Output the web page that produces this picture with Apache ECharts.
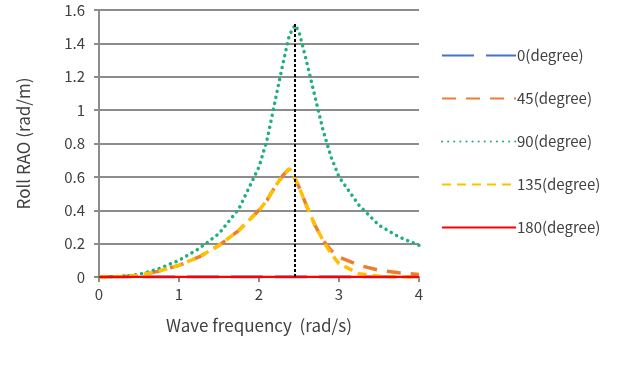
<!DOCTYPE html>
<html>
<head>
<meta charset="utf-8">
<script src="https://cdn.jsdelivr.net/npm/echarts@6/dist/echarts.min.js"></script>
<style>
  html, body { margin: 0; padding: 0; background: #fff; }
  #chart { width: 630px; height: 370px; }
</style>
</head>
<body>
<div id="chart"></div>
<script>
// wave frequency (rad/s)
var freq = [0, 0.25, 0.5, 0.75, 1.0, 1.25, 1.5, 1.75, 2.0, 2.1, 2.2, 2.3, 2.38, 2.45, 2.5, 2.6, 2.7, 2.8, 2.9, 3.0, 3.25, 3.5, 3.75, 4.0];

// roll RAO per heading
var deg0   = [0, 0, 0, 0, 0, 0, 0, 0, 0, 0, 0, 0, 0, 0, 0, 0, 0, 0, 0, 0, 0, 0, 0, 0];
var deg45  = [0, 0.002, 0.01, 0.035, 0.07, 0.12, 0.19, 0.28, 0.40, 0.46, 0.54, 0.61, 0.65, 0.59, 0.54, 0.42, 0.31, 0.22, 0.16, 0.12, 0.07, 0.04, 0.025, 0.015];
var deg90  = [0, 0.003, 0.015, 0.05, 0.10, 0.17, 0.26, 0.41, 0.66, 0.82, 1.05, 1.28, 1.45, 1.51, 1.47, 1.28, 1.08, 0.88, 0.72, 0.60, 0.43, 0.31, 0.24, 0.19];
var deg135 = [0, 0.002, 0.01, 0.035, 0.07, 0.12, 0.19, 0.28, 0.40, 0.46, 0.54, 0.61, 0.65, 0.59, 0.54, 0.42, 0.31, 0.22, 0.14, 0.08, 0.02, 0.005, 0, 0];
var deg180 = [0, 0, 0, 0, 0, 0, 0, 0, 0, 0, 0, 0, 0, 0, 0, 0, 0, 0, 0, 0, 0, 0, 0, 0];

var names = ['0(degree)', '45(degree)', '90(degree)', '135(degree)', '180(degree)'];

// resonance marker
var peakFreq = [2.45, 2.45];
var peakVal = [0, 1.52];

function pairs(xs, ys) {
    return xs.map(function (x, i) { return [x, ys[i]]; });
}

var font = 'Noto Sans CJK KR';

var option = {
    animation: false,
    textStyle: {fontFamily: font},
    grid: {left: 99, right: 211, top: 10, bottom: 93},
    legend: {
        orient: 'vertical',
        left: 436,
        top: 43,
        itemWidth: 74,
        itemHeight: 14,
        itemGap: 28,
        data: names,
        itemStyle: {opacity: 0},
        textStyle: {fontFamily: font, fontSize: 15, color: '#404040', padding: [0, 0, 0, -4]}
    },
    xAxis: {
        type: 'value',
        min: 0,
        max: 4,
        interval: 1,
        name: 'Wave frequency  (rad/s)',
        nameLocation: 'middle',
        nameGap: 40,
        nameTextStyle: {fontSize: 17, color: '#404040', fontFamily: font},
        axisLine: {lineStyle: {color: '#8c8c8c', width: 2}},
        axisTick: {show: true, length: 5, lineStyle: {color: '#8c8c8c', width: 2}},
        axisLabel: {fontSize: 15, color: '#404040', margin: 10},
        splitLine: {show: false}
    },
    yAxis: {
        type: 'value',
        min: 0,
        max: 1.6,
        interval: 0.2,
        name: 'Roll RAO (rad/m)',
        nameLocation: 'middle',
        nameGap: 67,
        nameRotate: 90,
        nameTextStyle: {fontSize: 17, color: '#404040', fontFamily: font},
        axisLine: {show: true, lineStyle: {color: '#8c8c8c', width: 2}},
        axisTick: {show: true, length: 5, lineStyle: {color: '#8c8c8c', width: 2}},
        axisLabel: {fontSize: 15, color: '#404040', margin: 14},
        splitLine: {lineStyle: {color: '#8c8c8c', width: 2}}
    },
    series: [
        {
            name: names[0], type: 'line', symbol: 'none', z: 2,
            data: pairs(freq, deg0),
            lineStyle: {color: '#4472C4', width: 3, type: [32, 12]},
            itemStyle: {color: '#4472C4'}
        },
        {
            name: names[1], type: 'line', symbol: 'none', z: 3,
            data: pairs(freq, deg45),
            lineStyle: {color: '#ED7D31', width: 3.5, type: [14, 10]},
            itemStyle: {color: '#ED7D31'}
        },
        {
            name: names[2], type: 'line', symbol: 'none', z: 3,
            data: pairs(freq, deg90),
            lineStyle: {color: '#22B07A', width: 3.5, type: [0.1, 6], cap: 'round'},
            itemStyle: {color: '#22B07A'}
        },
        {
            name: names[3], type: 'line', symbol: 'none', z: 4,
            data: pairs(freq, deg135),
            lineStyle: {color: '#FFC000', width: 3.5, type: [9, 6]},
            itemStyle: {color: '#FFC000'}
        },
        {
            name: names[4], type: 'line', symbol: 'none', z: 5,
            data: pairs(freq, deg180),
            lineStyle: {color: '#FF0000', width: 2.5},
            itemStyle: {color: '#FF0000'}
        },
        {
            name: 'peak', type: 'line', symbol: 'none', z: 6,
            data: pairs(peakFreq, peakVal),
            lineStyle: {color: '#000', width: 2, type: [3, 2]}
        }
    ]
};

var chart = echarts.init(document.getElementById('chart'));
chart.setOption(option);
</script>
</body>
</html>
